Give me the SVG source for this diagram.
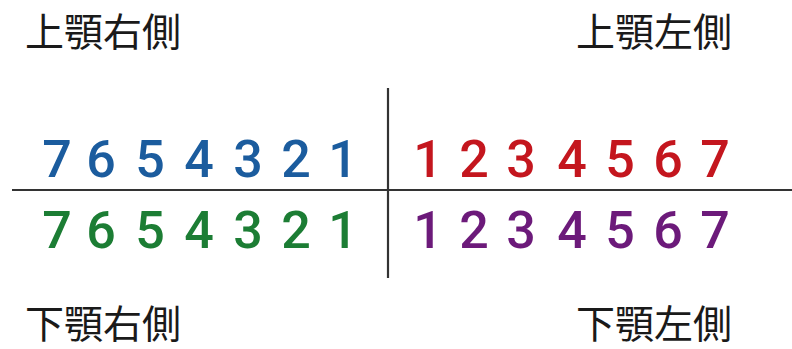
<svg xmlns="http://www.w3.org/2000/svg" width="792" height="349" viewBox="0 0 792 349">
<style>
.lbl{font-family:"Noto Sans CJK JP","Noto Sans",sans-serif;font-size:39px;fill:#1a1a1a}
.num{font-family:Roboto,"Noto Sans",sans-serif;font-weight:500;font-size:52px;text-anchor:middle}
.ur{fill:#1b5c9e}
.ul{fill:#c4161e}
.lr{fill:#1c7d34}
.ll{fill:#6c1a7a}
.ln{stroke:#333;stroke-width:2.2;fill:none}
</style>
<rect width="792" height="349" fill="#fff"/>
<g id="connectors">
<line class="ln" x1="12" y1="190" x2="792" y2="190"/>
<line class="ln" x1="388" y1="88" x2="388" y2="278"/>
</g>
<g id="label-upper-right"><text class="lbl" x="25" y="46">上顎右側</text></g>
<g id="label-upper-left"><text class="lbl" x="576" y="46">上顎左側</text></g>
<g id="label-lower-right"><text class="lbl" x="25" y="338">下顎右側</text></g>
<g id="label-lower-left"><text class="lbl" x="576" y="338">下顎左側</text></g>
<g id="upper-right-teeth" class="num ur">
<text x="57" y="177">7</text><text x="101" y="177">6</text><text x="150" y="177">5</text><text x="199" y="177">4</text><text x="248" y="177">3</text><text x="296" y="177">2</text><text x="343" y="177">1</text>
</g>
<g id="lower-right-teeth" class="num lr">
<text x="57" y="248">7</text><text x="101" y="248">6</text><text x="150" y="248">5</text><text x="199" y="248">4</text><text x="248" y="248">3</text><text x="296" y="248">2</text><text x="343" y="248">1</text>
</g>
<g id="upper-left-teeth" class="num ul">
<text x="428" y="177">1</text><text x="474" y="177">2</text><text x="521" y="177">3</text><text x="572" y="177">4</text><text x="620" y="177">5</text><text x="668" y="177">6</text><text x="715" y="177">7</text>
</g>
<g id="lower-left-teeth" class="num ll">
<text x="428" y="248">1</text><text x="474" y="248">2</text><text x="521" y="248">3</text><text x="572" y="248">4</text><text x="620" y="248">5</text><text x="668" y="248">6</text><text x="715" y="248">7</text>
</g>
</svg>
